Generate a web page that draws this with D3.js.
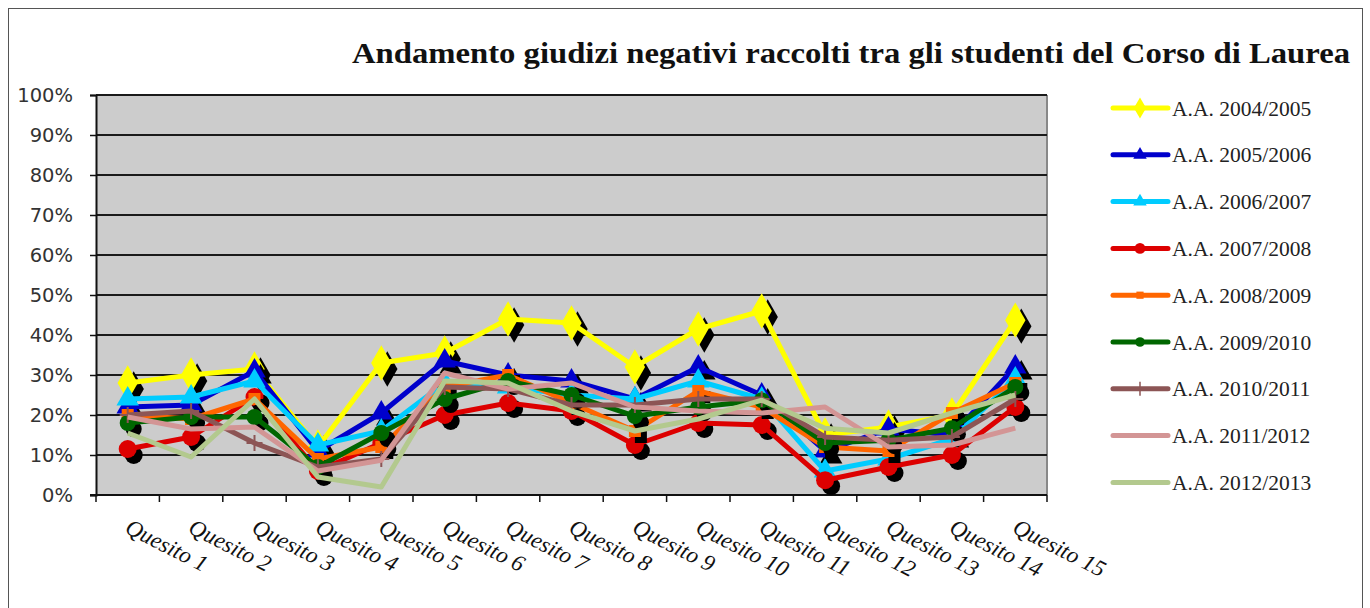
<!DOCTYPE html>
<html><head><meta charset="utf-8">
<script src="https://cdn.jsdelivr.net/npm/d3@7"></script>
<style>html,body{margin:0;padding:0;background:#fff;}svg{display:block;}</style>
</head><body>
<script>
const categories = ["Quesito 1","Quesito 2","Quesito 3","Quesito 4","Quesito 5","Quesito 6","Quesito 7","Quesito 8","Quesito 9","Quesito 10","Quesito 11","Quesito 12","Quesito 13","Quesito 14","Quesito 15"];
const seriesNames = ["A.A. 2004/2005","A.A. 2005/2006","A.A. 2006/2007","A.A. 2007/2008","A.A. 2008/2009","A.A. 2009/2010","A.A. 2010/2011","A.A. 2011/2012","A.A. 2012/2013"];
const s2004 = [0.28,0.30,0.315,0.12,0.33,0.355,0.44,0.43,0.32,0.415,0.46,0.15,0.17,0.20,0.437];
const s2005 = [0.22,0.225,0.31,0.11,0.205,0.335,0.30,0.285,0.24,0.32,0.25,0.11,0.165,0.15,0.32];
const s2006 = [0.24,0.245,0.285,0.125,0.16,0.28,0.27,0.25,0.24,0.285,0.24,0.06,0.09,0.14,0.29];
const s2007 = [0.115,0.145,0.245,0.06,0.13,0.20,0.23,0.21,0.125,0.18,0.175,0.037,0.07,0.10,0.22];
const s2008 = [0.20,0.19,0.24,0.09,0.12,0.27,0.30,0.23,0.16,0.26,0.22,0.12,0.11,0.205,0.28];
const s2009 = [0.18,0.195,0.195,0.07,0.155,0.24,0.285,0.25,0.197,0.22,0.237,0.13,0.137,0.167,0.27];
const s2010 = [0.20,0.21,0.13,0.07,0.09,0.27,0.265,0.225,0.225,0.24,0.24,0.145,0.137,0.145,0.24];
const s2011 = [0.195,0.165,0.17,0.06,0.087,0.305,0.265,0.28,0.22,0.21,0.205,0.22,0.12,0.125,0.167];
const s2012 = [0.155,0.095,0.24,0.045,0.02,0.285,0.28,0.21,0.16,0.19,0.237,0.167,0.155,0.205,0.25];
const yTicks = [0,0.1,0.2,0.3,0.4,0.5,0.6,0.7,0.8,0.9,1.0];
const title = "Andamento giudizi negativi raccolti tra gli studenti del Corso di Laurea";

const styles = [
  {color:"#ffff00", marker:"diamond", size:15, shadow:true},
  {color:"#0000cc", marker:"triangle", size:13, shadow:true},
  {color:"#00ccff", marker:"triangle", size:13, shadow:false},
  {color:"#dd0000", marker:"circle", size:9, shadow:true},
  {color:"#ff6600", marker:"square", size:12, shadow:true},
  {color:"#006600", marker:"circle", size:8, shadow:true},
  {color:"#8c5555", marker:"plus", size:8, shadow:false},
  {color:"#d39595", marker:"none", size:0, shadow:false},
  {color:"#b3c98e", marker:"none", size:0, shadow:false}
];
const allValues = [s2004,s2005,s2006,s2007,s2008,s2009,s2010,s2011,s2012];
const series = seriesNames.map((n,i)=>({name:n, values:allValues[i], st:styles[i]}));

const W=1370,H=608;
const svg = d3.select("body").append("svg").attr("width",W).attr("height",H);
svg.append("rect").attr("x",8.5).attr("y",8.5).attr("width",1354).attr("height",620)
  .attr("fill","#fff").attr("stroke","#555").attr("stroke-width",1);

const L=96,R=1047,T=95,B=495;
const x = d3.scaleBand().domain(categories).range([L,R]).paddingInner(0).paddingOuter(0);
const cx = c => x(c)+x.bandwidth()/2;
const y = d3.scaleLinear().domain([0,1]).range([B,T]);

// plot area
svg.append("rect").attr("x",L).attr("y",T).attr("width",R-L).attr("height",B-T).attr("fill","#cccccc");
svg.append("line").attr("x1",R).attr("x2",R).attr("y1",T).attr("y2",B).attr("stroke","#888").attr("stroke-width",2);
// gridlines
svg.append("g").selectAll("line").data(yTicks.filter(v=>v>0)).join("line")
  .attr("x1",L).attr("x2",R).attr("y1",d=>y(d)).attr("y2",d=>y(d))
  .attr("stroke","#1a1a1a").attr("stroke-width",2);

// y axis
const yAxis = svg.append("g").attr("transform",`translate(${L},0)`)
  .call(d3.axisLeft(y).tickValues(yTicks).tickFormat(d=>Math.round(d*100)+"%").tickSize(6).tickPadding(17));
yAxis.select(".domain").attr("stroke","#111").attr("stroke-width",2);
yAxis.selectAll(".tick line").attr("stroke","#111").attr("stroke-width",1.5);
yAxis.selectAll("text").attr("font-family","DejaVu Sans").attr("font-size",19.5).attr("fill","#333");

// x axis
svg.append("line").attr("x1",L-6).attr("x2",R).attr("y1",B).attr("y2",B).attr("stroke","#111").attr("stroke-width",2);
const bounds = categories.map(c=>x(c)).concat([R]);
svg.append("g").selectAll("line").data(bounds).join("line")
  .attr("x1",d=>d).attr("x2",d=>d).attr("y1",B).attr("y2",B+7).attr("stroke","#111").attr("stroke-width",1.5);
svg.append("g").selectAll("text").data(categories).join("text")
  .attr("transform",c=>`translate(${cx(c)-4},${B+37}) rotate(27)`)
  .attr("font-family","Liberation Serif").attr("font-style","italic").attr("font-size",23).attr("fill","#111")
  .text(c=>c);

// markers
function markerPath(type,s){
  if(type==="diamond") return d3.symbol(d3.symbolDiamond, s*s*1.6)();
  if(type==="triangle") return d3.symbol(d3.symbolTriangle, s*s*1.3)();
  if(type==="square") return `M${-s/2},${-s/2}h${s}v${s}h${-s}Z`;
  if(type==="circle") return d3.symbol(d3.symbolCircle, Math.PI*s*s)();
  return null;
}
const line = d3.line().x((d,i)=>cx(categories[i])).y(d=>y(d));
const plot = svg.append("g");
series.forEach(s=>{
  const g = plot.append("g");
  if(s.st.shadow && s.st.marker!=="none" && s.st.marker!=="plus"){
    g.selectAll("path.sh").data(s.values).join("path").attr("class","sh")
      .attr("d",markerPath(s.st.marker,s.st.size))
      .attr("transform",(d,i)=>`translate(${cx(categories[i])+6},${y(d)+6})`)
      .attr("fill","#000");
  }
  g.append("path").datum(s.values).attr("d",line).attr("fill","none")
    .attr("stroke",s.st.color).attr("stroke-width",5).attr("stroke-linejoin","round");
  if(s.st.marker==="plus"){
    g.selectAll("path.mk").data(s.values).join("path").attr("class","mk")
      .attr("d",`M0,${-s.st.size}V${s.st.size}M${-s.st.size},0H${s.st.size}`)
      .attr("transform",(d,i)=>`translate(${cx(categories[i])},${y(d)})`)
      .attr("stroke",s.st.color).attr("stroke-width",2);
  } else if(s.st.marker!=="none"){
    g.selectAll("path.mk").data(s.values).join("path").attr("class","mk")
      .attr("d",markerPath(s.st.marker,s.st.size))
      .attr("transform",(d,i)=>`translate(${cx(categories[i])},${y(d)})`)
      .attr("fill",s.st.color);
  }
});

// legend
const lg = svg.append("g");
series.forEach((s,i)=>{
  const ly = 108 + i*46.8;
  const g = lg.append("g").attr("transform",`translate(1113,${ly})`);
  g.append("line").attr("x1",0).attr("x2",55).attr("y1",0).attr("y2",0)
    .attr("stroke",s.st.color).attr("stroke-width",5).attr("stroke-linecap","round");
  if(s.st.marker==="plus"){
    g.append("path").attr("d","M27,-7V7").attr("stroke",s.st.color).attr("stroke-width",1.5);
  } else if(s.st.marker!=="none"){
    g.append("path").attr("d",markerPath(s.st.marker,s.st.size*0.6)).attr("transform","translate(27,0)").attr("fill",s.st.color);
  }
  g.append("text").attr("x",59).attr("y",0).attr("dy","0.35em")
    .attr("font-family","Liberation Serif").attr("font-size",21.5).attr("fill","#222").text(s.name);
});

// title
svg.append("text").attr("x",352).attr("y",63)
  .attr("font-family","Liberation Serif").attr("font-weight","bold").attr("font-size",29).attr("fill","#111")
  .attr("textLength",998).attr("lengthAdjust","spacingAndGlyphs").text(title);
</script>
</body></html>
